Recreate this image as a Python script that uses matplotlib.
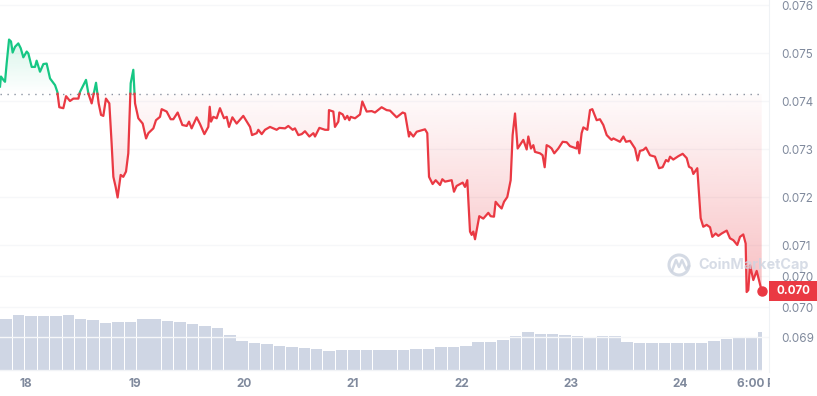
import numpy as np
import matplotlib
matplotlib.use("Agg")
import matplotlib.pyplot as plt
from matplotlib.patches import Circle, Rectangle
from matplotlib.path import Path
from matplotlib.transforms import Bbox, IdentityTransform, TransformedBbox

plt.rcParams['font.family'] = ['Inter', 'DejaVu Sans']

days = [17.761,17.770,17.792,17.807,17.822,17.844,17.862,17.877,17.899,17.929,17.951,17.975,18.006,18.021,18.052,18.082,18.097,18.128,18.159,18.189,18.220,18.266,18.287,18.305,18.342,18.367,18.403,18.434,18.480,18.495,18.550,18.571,18.602,18.642,18.666,18.688,18.709,18.733,18.764,18.785,18.801,18.822,18.840,18.868,18.892,18.917,18.938,18.960,18.984,19.000,19.030,19.070,19.101,19.122,19.168,19.192,19.229,19.244,19.290,19.327,19.351,19.391,19.434,19.474,19.495,19.519,19.565,19.596,19.636,19.672,19.685,19.697,19.718,19.749,19.779,19.816,19.841,19.862,19.893,19.932,19.993,20.055,20.073,20.116,20.131,20.162,20.192,
20.238,20.269,20.299,20.324,20.376,20.406,20.446,20.467,20.498,20.529,20.559,20.599,20.636,20.651,20.691,20.743,20.773,20.779,20.819,20.834,20.865,20.874,20.905,20.926,20.947,20.966,20.978,21.018,21.064,21.085,21.125,21.171,21.201,21.262,21.308,21.339,21.400,21.455,21.477,21.513,21.522,21.553,21.584,21.660,21.681,21.697,21.730,21.758,21.798,21.819,21.844,21.905,21.926,21.950,22.006,22.027,22.048,22.073,22.088,22.103,22.119,22.158,22.195,22.241,22.262,22.293,22.308,22.333,22.363,22.385,22.415,22.446,22.464,22.486,22.510,22.562,22.593,22.608,22.632,22.654,22.669,
22.715,22.739,22.758,22.776,22.801,22.822,22.846,22.883,22.923,22.960,22.990,23.051,23.061,23.076,23.097,23.113,23.149,23.174,23.195,23.235,23.265,23.296,23.327,23.357,23.372,23.388,23.449,23.480,23.504,23.541,23.587,23.611,23.632,23.663,23.687,23.724,23.770,23.807,23.840,23.871,23.892,23.908,23.938,23.984,24.024,24.061,24.082,24.106,24.122,24.158,24.171,24.189,24.213,24.244,24.275,24.296,24.327,24.351,24.382,24.428,24.458,24.489,24.525,24.550,24.580,24.602,24.611,24.626,24.642,24.672,24.703,24.749]

price = [.07430,.07451,.07444,.07440,.07478,.07528,.07524,.07501,.07513,.07520,.07510,.07491,.07503,.07499,.07471,.07471,.07484,.07461,.07477,.07478,.07447,.07433,.07419,.07387,.07385,.07410,.07400,.07405,.07405,.07419,.07444,.07416,.07395,.07438,.07395,.07371,.07369,.07405,.07395,.07312,.07242,.07221,.07199,.07246,.07242,.07253,.07291,.07437,.07465,.07395,.07364,.07353,.07322,.07333,.07343,.07360,.07367,.07383,.07378,.07362,.07362,.07376,.07350,.07348,.07357,.07343,.07366,.07352,.07331,.07346,.07388,.07357,.07367,.07364,.07385,.07364,.07367,.07346,.07366,.07353,.07369,.07346,.07329,.07333,.07340,.07331,.07340,
.07346,.07343,.07340,.07344,.07343,.07348,.07340,.07343,.07329,.07331,.07337,.07326,.07333,.07326,.07344,.07340,.07340,.07381,.07378,.07346,.07357,.07376,.07372,.07362,.07369,.07360,.07367,.07364,.07372,.07399,.07378,.07379,.07376,.07387,.07381,.07380,.07366,.07376,.07374,.07326,.07335,.07326,.07336,.07341,.07333,.07242,.07227,.07235,.07225,.07237,.07232,.07235,.07211,.07223,.07230,.07221,.07235,.07128,.07121,.07128,.07112,.07160,.07155,.07167,.07160,.07159,.07190,.07183,.07176,.07190,.07200,.07235,.07329,.07374,.07301,.07319,.07299,.07326,.07301,.07308,.07294,
.07291,.07287,.07262,.07308,.07305,.07301,.07291,.07301,.07315,.07314,.07306,.07301,.07315,.07291,.07333,.07345,.07340,.07381,.07383,.07360,.07362,.07350,.07329,.07322,.07319,.07322,.07315,.07326,.07315,.07317,.07301,.07276,.07296,.07298,.07303,.07287,.07284,.07260,.07262,.07277,.07274,.07284,.07278,.07285,.07290,.07281,.07263,.07260,.07248,.07260,.07215,.07156,.07138,.07142,.07137,.07117,.07124,.07119,.07124,.07130,.07114,.07110,.07100,.07117,.07122,.07103,.07002,.07006,.07058,.07027,.07046,.07004]

volume = [51,55,54,54,54.5,55,51,50,47,48,48,51,51,49,48,46,44,42,35,29,27,26,24,23,22,21,19,20,20,20,20,20,20,21,21,23,23,24,28,28,30,34,38,36,36,35,34,33,34,34,28,27,27,27,27,27,27,29,31,32,33,38,39]

baseline = 0.07415
last_price = 0.07004
y_ticks = [.076,.075,.074,.073,.072,.071,.07035,.0697,.06908]
y_labels = ['0.076','0.075','0.074','0.073','0.072','0.071','0.070','0.070','0.069']
x_ticks = [18,19,20,21,22,23,24,24.75]
x_labels = ['18','19','20','21','22','23','24','6:00 PM']

RED, GREEN = '#ea3943', '#16c784'
GRAY = '#808a9d'

W, H = 817, 396
fig = plt.figure(figsize=(W/100, H/100), dpi=100)
ax = fig.add_axes([0, (H-372)/H, 769/W, 372/H])
x0, x1 = 17.761, 17.761 + 769/109
y0, y1 = 0.074 - (372-101)/48000, 0.074 + 101/48000

t = np.array(days); p = np.array(price)
# insert baseline crossings
tt, pp = [t[0]], [p[0]]
for i in range(1, len(t)):
    if (p[i-1]-baseline)*(p[i]-baseline) < 0:
        f = (baseline-p[i-1])/(p[i]-p[i-1])
        tt.append(t[i-1]+f*(t[i]-t[i-1])); pp.append(baseline)
    tt.append(t[i]); pp.append(p[i])
tt, pp = np.array(tt), np.array(pp)

ax.set_zorder(2); ax.patch.set_alpha(0)

def gradient(color, ya, yb, aa, ab, mask):
    rgb = matplotlib.colors.to_rgb(color)
    a = np.linspace(aa, ab, 200)[:, None]
    img = np.zeros((200, 1, 4)); img[..., :3] = rgb; img[..., 3] = a
    im = ax.imshow(img, extent=[tt[0], tt[-1], yb, ya], origin='upper' if ya > yb else 'lower',
                   aspect='auto', interpolation='bilinear', zorder=1)
    coll = ax.fill_between(tt, pp, baseline, where=mask, facecolor='none', edgecolor='none')
    path = Path.make_compound_path(*coll.get_paths())
    im.set_clip_path(path, ax.transData)

gradient(RED, baseline, 0.0699, 0.02, 0.33, pp <= baseline)
gradient(GREEN, 0.0753, baseline, 0.17, 0.0, pp >= baseline)

ax.plot(tt, np.where(pp >= baseline, pp, np.nan), color=GREEN, lw=1.6, zorder=3, solid_joinstyle='round')
ax.plot(tt, np.where(pp <= baseline, pp, np.nan), color=RED, lw=1.6, zorder=3, solid_joinstyle='round')
ax.plot([x0, tt[-1]], [baseline, baseline], color='#8a92a0', lw=1.0, dashes=(1, 4), zorder=2)
ax.plot([tt[-1]], [last_price], 'o', color=RED, ms=6.5, zorder=4, clip_on=False)

ax.set_xlim(x0, x1); ax.set_ylim(y0, y1)
ax.set_yticks(y_ticks); ax.set_yticklabels(y_labels)
ax.yaxis.tick_right()
ax.grid(axis='y', color='#f6f7f9', lw=1)
ax.set_axisbelow(True)
ax.tick_params(axis='y', length=0, pad=8.5, labelsize=8.4, labelcolor=GRAY)
ax.tick_params(axis='x', length=0, pad=4, labelsize=8.5, labelcolor=GRAY)
ax.set_xticks(x_ticks); ax.set_xticklabels(x_labels, fontweight='bold')
clip = TransformedBbox(Bbox([[0, 0], [770, H]]), IdentityTransform())
for lb in ax.get_xticklabels():
    lb.set_clip_on(True); lb.set_clip_box(clip)
for s in ('top', 'left', 'bottom'):
    ax.spines[s].set_visible(False)
ax.spines['right'].set_color('#eff2f5')

# volume
vx = fig.add_axes(ax.get_position(), zorder=1)
vx.set_xlim(x0, x1); vx.set_ylim(-2, 370)
step = 12.42/109
vt = x0 + (np.arange(len(volume)) + 0.5)*step
vx.bar(vt, volume, width=step-0.9/109, color='#cfd6e4', linewidth=0)
vx.axhline(0, color='#f1f3f6', lw=1)
vx.axis('off')
vx.patch.set_alpha(0)
vx.add_patch(Rectangle((tt[-1], -2), x1-tt[-1], 100, color='white', zorder=5, lw=0))

# price tag
fig.add_artist(Rectangle((769, H-301), 48, 20, transform=IdentityTransform(), color=RED, lw=0, zorder=6))
fig.text(793/W, 1-291/H, '0.070', color='white', fontsize=8.4, fontweight='bold', ha='center', va='center', zorder=7)

# watermark
wm = '#cdd4e0'
fig.add_artist(Circle((679, H-265), 10, transform=IdentityTransform(), fill=False, ec=wm, lw=2.2, zorder=8, alpha=.85))
fig.add_artist(plt.Line2D([672, 676, 679, 682, 686, 689], [H-271, H-260, H-267, H-260, H-269, H-266],
                          transform=IdentityTransform(), color=wm, lw=1.8, zorder=8, alpha=.85))
fig.text(698/W, 1-265/H, 'CoinMarketCap', color=wm, fontsize=10.4, fontweight='bold', va='center', ha='left', zorder=8, alpha=.8)

fig.savefig('out.png', dpi=100, facecolor='white')
